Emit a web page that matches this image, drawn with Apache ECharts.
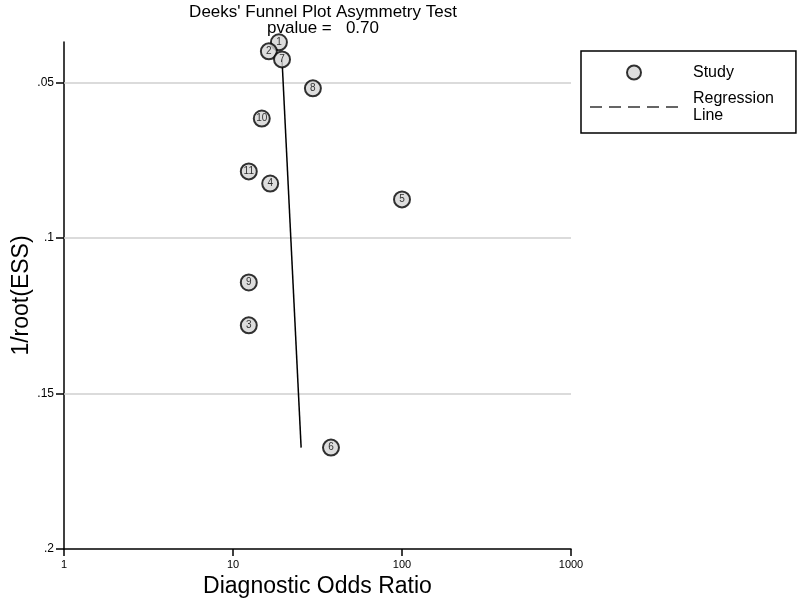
<!DOCTYPE html>
<html>
<head>
<meta charset="utf-8">
<script src="https://cdn.jsdelivr.net/npm/echarts@6/dist/echarts.min.js"></script>
<style>html,body{margin:0;padding:0;background:#fff}#c{width:800px;height:600px}</style>
</head>
<body>
<div id="c"></div>
<script>
// Data
const studyIds = ['1','2','7','8','10','11','4','5','9','3','6'];
const diagnosticOddsRatio = [18.7, 16.3, 19.5, 29.7, 14.8, 12.4, 16.6, 100, 12.4, 12.4, 38.0];
const invRootESS = [0.0371, 0.0400, 0.0426, 0.0519, 0.0616, 0.0786, 0.0825, 0.0876, 0.1143, 0.1281, 0.1674];
const regressionX = [19.5, 25.3];
const regressionY = [0.0426, 0.1674];
const xTicks = [1, 10, 100, 1000];
const yTicks = [0.05, 0.1, 0.15, 0.2];
const gridLines = [0.05, 0.1, 0.15];

const FONT = 'Liberation Sans, Arial, sans-serif';
const DASH_ICON = 'path://M0,0h12v1.5h-12z M19,0h12v1.5h-12z M38,0h12v1.5h-12z M57,0h12v1.5h-12z M76,0h12v1.5h-12z';
const chart = echarts.init(document.getElementById('c'));
chart.setOption({
  animation: false,
  backgroundColor: '#fff',
  title: {
    text: "Deeks' Funnel Plot Asymmetry Test\npvalue =   0.70",
    left: 318, textAlign: 'center', top: -1,
    textStyle: {fontFamily: FONT, fontSize: 17, fontWeight: 'normal', color: '#000', lineHeight: 16}
  },
  legend: {
    orient: 'vertical',
    left: 581, top: 51,
    padding: [13, 22, 9, 9],
    itemWidth: 88, itemHeight: 14, itemGap: 9,
    borderColor: '#000', borderWidth: 1.5,
    textStyle: {fontFamily: FONT, fontSize: 16, color: '#000', padding: [0, 0, 0, 10], lineHeight: 17},
    formatter: n => n === 'Regression Line' ? 'Regression\nLine' : n,
    data: [
      {name: 'Study', icon: 'circle'},
      {name: 'Regression Line', icon: DASH_ICON, itemStyle: {color: '#333', borderWidth: 0}}
    ]
  },
  grid: {left: 64, right: 229, top: 42, bottom: 51, containLabel: false, outerBoundsMode: 'none'},
  xAxis: {
    type: 'log', logBase: 10, min: xTicks[0], max: xTicks[xTicks.length - 1],
    name: 'Diagnostic Odds Ratio', nameLocation: 'middle', nameGap: 26, nameMoveOverlap: false,
    nameTextStyle: {fontFamily: FONT, fontSize: 23, color: '#000'},
    axisLine: {lineStyle: {color: '#000', width: 1.5}},
    axisTick: {length: 7, lineStyle: {color: '#000', width: 1.5}},
    axisLabel: {fontFamily: FONT, fontSize: 11, color: '#000', margin: 10, formatter: v => String(v)},
    splitLine: {show: false}, minorTick: {show: false}
  },
  yAxis: {
    type: 'value', inverse: true, min: 0.037, max: 0.2,
    name: '1/root(ESS)', nameLocation: 'middle', nameGap: 31, nameMoveOverlap: false,
    nameTextStyle: {fontFamily: FONT, fontSize: 23, color: '#000'},
    axisLine: {show: true, lineStyle: {color: '#000', width: 1.5}},
    axisTick: {show: true, length: 8, customValues: yTicks, lineStyle: {color: '#000', width: 1.5}},
    axisLabel: {fontFamily: FONT, fontSize: 12, color: '#000', margin: 10, customValues: yTicks,
      formatter: v => String(+v.toFixed(3)).replace(/^0/, '')},
    splitLine: {show: false}
  },
  series: [
    {
      name: 'Regression Line', type: 'line', z: 2,
      data: regressionX.map((x, i) => [x, regressionY[i]]),
      symbol: 'none', showSymbol: false,
      lineStyle: {color: '#000', width: 1.5},
      itemStyle: {color: '#333'},
      markLine: {
        silent: true, symbol: 'none', z: 1,
        label: {show: false},
        lineStyle: {color: '#cfcfcf', width: 1.5, type: 'solid'},
        data: gridLines.map(v => ({yAxis: v}))
      }
    },
    {
      name: 'Study', type: 'scatter', z: 5,
      data: diagnosticOddsRatio.map((x, i) => ({value: [x, invRootESS[i]], name: studyIds[i]})),
      symbol: 'circle', symbolSize: 16,
      itemStyle: {color: '#d4d4d4', borderColor: '#000', borderWidth: 2},
      label: {show: true, position: 'inside', formatter: p => p.name,
        fontFamily: FONT, fontSize: 10, color: '#000'}
    }
  ]
});
</script>
</body>
</html>
